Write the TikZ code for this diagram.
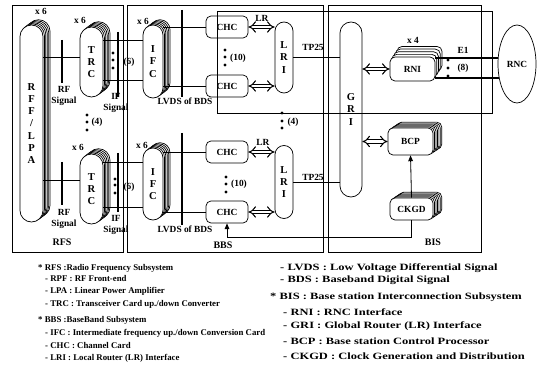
\documentclass[tikz,border=0pt]{standalone}
\usepackage{fontspec}
\setmainfont{Liberation Serif}
\usepackage{graphicx}
\usetikzlibrary{arrows.meta,shadows,calc,shapes.geometric}
\newcommand\widetext[1]{\scalebox{1.3}[1]{#1}}
\tikzset{
  lbl/.style={font=\fontsize{8}{10}\selectfont\bfseries, inner sep=0pt, align=center},
  tall/.style={font=\fontsize{9}{10.5}\selectfont\bfseries, align=center},
  cardlayer/.style 2 args={general shadow={shadow xshift=#1, shadow yshift=#2, fill=white, draw}},
  stacksix/.style={cardlayer={6pt}{4.5pt}, cardlayer={4.8pt}{3.6pt}, cardlayer={3.6pt}{2.7pt},
                   cardlayer={2.4pt}{1.8pt}, cardlayer={1.2pt}{0.9pt}},
  stackfour/.style={cardlayer={6pt}{9pt}, cardlayer={4.5pt}{6.75pt}, cardlayer={3pt}{4.5pt}, cardlayer={1.5pt}{2.25pt}},
  stackbox/.style={cardlayer={7.5pt}{5pt}, cardlayer={6.25pt}{4.2pt}, cardlayer={5pt}{3.3pt},
                   cardlayer={3.75pt}{2.5pt}, cardlayer={2.5pt}{1.7pt}, cardlayer={1.25pt}{0.8pt}},
  pill/.style={draw, fill=white, line width=0.6pt, inner sep=0pt, tall},
  card/.style={draw, fill=white, line width=0.6pt, inner sep=0pt, rounded corners=0.15cm,
               minimum width=1.26cm, minimum height=0.66cm, lbl},
  subsys/.style={line width=0.8pt},
  link/.style={line width=0.7pt},
  bus/.style={line width=1.6pt},
  bar/.style={line width=1pt},
  dblarrow/.style={double, double distance=2.4pt, line width=0.9pt, {Implies[length=4pt,width=9pt]}-{Implies[length=4pt,width=9pt]}},
  feed/.style={line width=0.7pt, -{Triangle[length=5pt,width=4pt]}},
  legend/.style={anchor=west, inner sep=0pt, font=\fontsize{7.5}{9}\selectfont\bfseries},
  legendr/.style={anchor=west, inner sep=0pt, font=\fontsize{8.2}{10}\selectfont\bfseries}
}
\begin{document}
\begin{tikzpicture}[x=0.03cm, y=-0.03cm]
  \useasboundingbox (0,0) rectangle (537,377);

  % RFS
  \node[pill, stacksix, minimum width=.69cm, minimum height=5.91cm, rounded corners=.345cm] (rff) at (31.5,123.5) {R\\F\\F\\/\\L\\P\\A};
  \node[pill, stacksix, minimum width=.69cm, minimum height=2.1cm, rounded corners=.345cm] (trcA) at (91.5,62) {T\\R\\C};
  \node[pill, stacksix, minimum width=.69cm, minimum height=2.1cm, rounded corners=.345cm] (trcB) at (91.5,189) {T\\R\\C};
  \node[lbl] (xrff) at (41,11) {x 6};
  \node[lbl] (xtrcA) at (80,20) {x 6};
  \node[lbl] (xtrcB) at (78,147) {x 6};

  % BBS
  \node[pill, stacksix, minimum width=.6cm, minimum height=2.19cm, rounded corners=.3cm] (ifcA) at (153,61.5) {I\\F\\C};
  \node[pill, stacksix, minimum width=.6cm, minimum height=2.16cm, rounded corners=.3cm] (ifcB) at (153,184) {I\\F\\C};
  \node[lbl] (xifcA) at (143,21) {x 6};
  \node[lbl] (xifcB) at (142,145) {x 6};
  \node[card] (chcA1) at (227,27) {CHC};
  \node[card] (chcA2) at (227,86) {CHC};
  \node[card] (chcB1) at (227,152) {CHC};
  \node[card] (chcB2) at (227,212) {CHC};
  \node[pill, minimum width=.54cm, minimum height=2.13cm, rounded corners=.27cm] (lriA) at (284,57.5) {L\\R\\I};
  \node[pill, minimum width=.54cm, minimum height=2.19cm, rounded corners=.27cm] (lriB) at (284,182) {L\\R\\I};

  % BIS
  \node[pill, minimum width=.66cm, minimum height=5.25cm, rounded corners=.33cm] (gri) at (351,109.5) {G\\R\\I};
  \node[card, stackfour, minimum width=1.35cm, minimum height=.72cm] (rni) at (412.5,69) {RNI};
  \node[card, stackbox, minimum width=1.35cm, minimum height=.81cm] (bcp) at (410.5,141.5) {BCP};
  \node[card, stackbox, minimum width=1.29cm, minimum height=.66cm] (ckgd) at (411.5,209) {CKGD};
  \node[lbl] (xrni) at (413,40) {x 4};
  \node[draw, ellipse, line width=0.6pt, minimum width=1.14cm, minimum height=2.34cm, lbl] (rnc) at (517,64) {RNC};

  % subsystem frames
  \draw[subsys] (12,5) rectangle (123,252);
  \draw[subsys] (127,5) rectangle (323,252);
  \draw[subsys] (328,5) rectangle (481,252);
  \draw[subsys] (217,11) rectangle (492,113);
  \node[lbl, font=\fontsize{8.5}{10}\selectfont\bfseries] (rfs) at (62,242) {RFS};
  \node[lbl, font=\fontsize{8.5}{10}\selectfont\bfseries] (bbs) at (223,245) {BBS};
  \node[lbl, font=\fontsize{8.5}{10}\selectfont\bfseries] (bis) at (433,242) {BIS};

  % RF and IF signals
  \draw[link] ($(rff.east |- trcA.west)+(0,-5)$) -- ($(trcA.west)+(0,-5)$);
  \draw[link] ($(rff.east |- trcB.west)+(0,-9)$) -- ($(trcB.west)+(0,-9)$);
  \draw[bar] (62,40) -- (62,83);
  \draw[bar] (62,162) -- (62,205);
  \node[lbl] (rfA) at (64,96) {RF\\Signal};
  \node[lbl] (rfB) at (64,219) {RF\\Signal};
  \draw[link] ($(trcA.east)+(0,-22)$) -- ($(ifcA.west |- trcA.east)+(0,-22)$);
  \draw[link] ($(trcA.east)+(0,18)$) -- ($(ifcA.west |- trcA.east)+(0,18)$);
  \draw[link] ($(trcB.east)+(0,-27)$) -- ($(ifcB.west |- trcB.east)+(0,-27)$);
  \draw[link] ($(trcB.east)+(0,18)$) -- ($(ifcB.west |- trcB.east)+(0,18)$);
  \draw[bar] (118,32) -- (118,97);
  \draw[bar] (118,153) -- (118,212);
  \node[lbl] (ifA) at (116,103) {IF\\Signal};
  \node[lbl] (ifB) at (116,225) {IF\\Signal};

  % LVDS of BDS
  \draw[link] (ifcA.east |- chcA1.west) -- (chcA1.west);
  \draw[link] (ifcA.east |- chcA2.west) -- (chcA2.west);
  \draw[link] (ifcB.east |- chcB1.west) -- (chcB1.west);
  \draw[link] (ifcB.east |- chcB2.west) -- (chcB2.west);
  \draw[bar] (182,10) -- (182,97);
  \draw[bar] (182,133) -- (182,225);
  \node[lbl] (lvdsA) at (185,101) {LVDS of BDS};
  \node[lbl] (lvdsB) at (185,229) {LVDS of BDS};

  % local router links
  \draw[dblarrow] (chcA1.east) -- (lriA.west |- chcA1.east);
  \draw[dblarrow] (chcA2.east) -- (lriA.west |- chcA2.east);
  \draw[dblarrow] (chcB1.east) -- (lriB.west |- chcB1.east);
  \draw[dblarrow] (chcB2.east) -- (lriB.west |- chcB2.east);
  \node[lbl] (lrA) at (262,18) {LR};
  \node[lbl] (lrB) at (263,142) {LR};
  \draw[bus] (lriA.east) -- (gri.west |- lriA.east);
  \draw[link] (lriB.east) -- (gri.west |- lriB.east);
  \node[lbl] (tpA) at (313,47) {TP25};
  \node[lbl] (tpB) at (313,177) {TP25};

  % BIS links
  \draw[dblarrow] (gri.east |- rni.west) -- (rni.west);
  \draw[dblarrow] (gri.east |- bcp.west) -- (bcp.west);
  \draw[bus] (rni.east |- rnc.162) -- (rnc.162);
  \draw[bus] (rni.east |- rnc.218) -- (rnc.218);
  \node[lbl] (eone) at (463,50) {E1};
  \draw[feed] (ckgd.north) -- (bcp.south);
  \draw[feed] (ckgd.south) -- ++(0,17) -| (chcB2.south);

  % multiplicity dots
  \foreach \y in {53,60,68} \fill (113,\y) circle[radius=1.4pt];
  \foreach \y in {179,185,193} \fill (115,\y) circle[radius=1.4pt];
  \foreach \y in {115,122,130} \fill (87,\y) circle[radius=1.4pt];
  \foreach \y in {50,57,65} \fill (225,\y) circle[radius=1.4pt];
  \foreach \y in {177,184,192} \fill (226,\y) circle[radius=1.4pt];
  \foreach \y in {113,121,128} \fill (282,\y) circle[radius=1.4pt];
  \foreach \y in {60,68,76} \fill (448,\y) circle[radius=1.4pt];
  \node[lbl] (nsixA) at (129,62) {(6)};
  \node[lbl] (nsixB) at (129,187) {(6)};
  \node[lbl] (nfourA) at (97,122) {(4)};
  \node[lbl] (ntenA) at (238,58) {(10)};
  \node[lbl] (ntenB) at (239,184) {(10)};
  \node[lbl] (nfourB) at (293,122) {(4)};
  \node[lbl] (neight) at (463,68) {(8)};

  % legend
  \node[legend] (legRfs) at (38,268) {* RFS :Radio Frequency Subsystem};
  \node[legend] (legRpf) at (45,279) {- RPF : RF Front-end};
  \node[legend] (legLpa) at (45,291) {- LPA : Linear Power Amplifier};
  \node[legend] (legTrc) at (45,304) {- TRC : Transceiver Card up./down Converter};
  \node[legend] (legBbs) at (38,320) {* BBS :BaseBand Subsystem};
  \node[legend] (legIfc) at (45,333) {- IFC : Intermediate frequency up./down Conversion Card};
  \node[legend] (legChc) at (45,346) {- CHC : Channel Card};
  \node[legend] (legLri) at (45,358) {- LRI : Local Router (LR) Interface};
  \node[legendr] (legLvds) at (280,268) {\widetext{- LVDS : Low Voltage Differential Signal}};
  \node[legendr] (legBds) at (280,280) {\widetext{- BDS : Baseband Digital Signal}};
  \node[legendr] (legBis) at (270,297) {\widetext{* BIS : Base station Interconnection Subsystem}};
  \node[legendr] (legRni) at (283,312) {\widetext{- RNI : RNC Interface}};
  \node[legendr] (legGri) at (283,326) {\widetext{- GRI : Global Router (LR) Interface}};
  \node[legendr] (legBcp) at (283,341) {\widetext{- BCP : Base station Control Processor}};
  \node[legendr] (legCkgd) at (283,356) {\widetext{- CKGD : Clock Generation and Distribution}};
\end{tikzpicture}
\end{document}
